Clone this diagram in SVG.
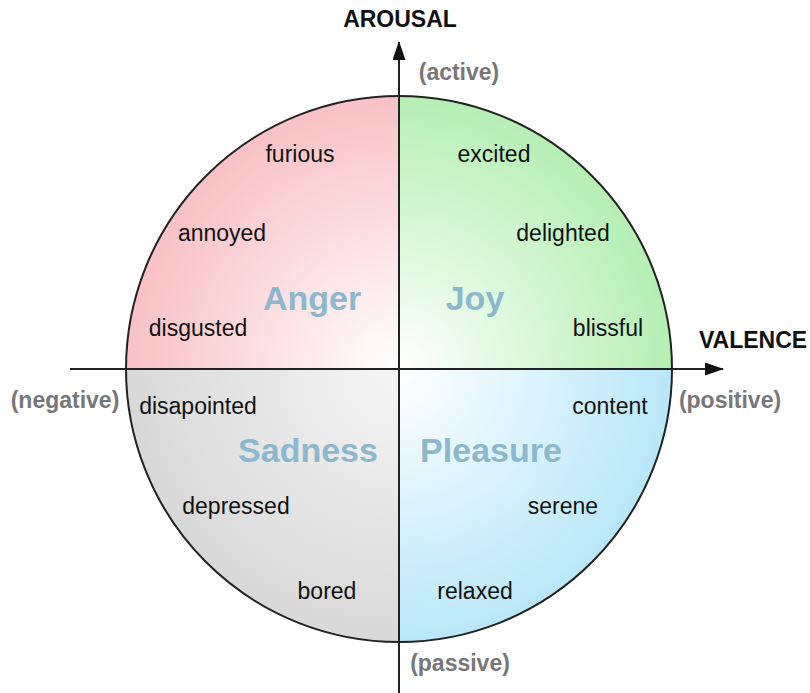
<svg xmlns="http://www.w3.org/2000/svg" width="810" height="693" viewBox="0 0 810 693">
<style>
.w{font-family:"Liberation Sans",Arial,sans-serif;font-size:23px;fill:#111}
.q{font-family:"Liberation Sans",Arial,sans-serif;font-size:34px;font-weight:bold;fill:#8cb8cd}
.g{font-family:"Liberation Sans",Arial,sans-serif;font-size:23px;font-weight:bold;fill:#777}
.t{font-family:"Liberation Sans",Arial,sans-serif;font-size:23px;font-weight:bold;fill:#111}
.ax{stroke:#222;stroke-width:2;fill:none}
</style>
<defs>
<radialGradient id="gA" gradientUnits="userSpaceOnUse" cx="399" cy="369" r="273">
<stop offset="0" stop-color="#ffffff"/><stop offset="1" stop-color="#f8c1c5"/></radialGradient>
<radialGradient id="gJ" gradientUnits="userSpaceOnUse" cx="399" cy="369" r="273">
<stop offset="0" stop-color="#ffffff"/><stop offset="1" stop-color="#b5efb3"/></radialGradient>
<radialGradient id="gP" gradientUnits="userSpaceOnUse" cx="399" cy="369" r="273">
<stop offset="0" stop-color="#ffffff"/><stop offset="1" stop-color="#b9e7f8"/></radialGradient>
<radialGradient id="gS" gradientUnits="userSpaceOnUse" cx="399" cy="369" r="273">
<stop offset="0" stop-color="#f6f6f6"/><stop offset="1" stop-color="#d8d8d8"/></radialGradient>
<marker id="ah" viewBox="0 0 19 13" refX="18" refY="6.5" markerWidth="19" markerHeight="13" markerUnits="userSpaceOnUse" orient="auto">
<path d="M0,0 L19,6.5 L0,13 Z" fill="#111"/></marker>
</defs>
<g id="anger">
<path d="M399,369 L126,369 A273,273 0 0 1 399,96 Z" fill="url(#gA)"/>
<text class="q" x="312" y="310" text-anchor="middle">Anger</text>
<text class="w" x="300" y="162" text-anchor="middle">furious</text>
<text class="w" x="222" y="241" text-anchor="middle">annoyed</text>
<text class="w" x="198" y="336" text-anchor="middle">disgusted</text>
</g>
<g id="joy">
<path d="M399,369 L399,96 A273,273 0 0 1 672,369 Z" fill="url(#gJ)"/>
<text class="q" x="475" y="310" text-anchor="middle">Joy</text>
<text class="w" x="494" y="162" text-anchor="middle">excited</text>
<text class="w" x="563" y="241" text-anchor="middle">delighted</text>
<text class="w" x="608" y="336" text-anchor="middle">blissful</text>
</g>
<g id="pleasure">
<path d="M399,369 L672,369 A273,273 0 0 1 399,642 Z" fill="url(#gP)"/>
<text class="q" x="491" y="462" text-anchor="middle">Pleasure</text>
<text class="w" x="610" y="414" text-anchor="middle">content</text>
<text class="w" x="563" y="514" text-anchor="middle">serene</text>
<text class="w" x="475" y="599" text-anchor="middle">relaxed</text>
</g>
<g id="sadness">
<path d="M399,369 L399,642 A273,273 0 0 1 126,369 Z" fill="url(#gS)"/>
<text class="q" x="308" y="462" text-anchor="middle">Sadness</text>
<text class="w" x="198" y="414" text-anchor="middle">disapointed</text>
<text class="w" x="236" y="514" text-anchor="middle">depressed</text>
<text class="w" x="327" y="599" text-anchor="middle">bored</text>
</g>
<circle cx="399" cy="369" r="273" class="ax"/>
<g id="connectors">
<line x1="399" y1="693" x2="399" y2="42" class="ax" marker-end="url(#ah)"/>
<line x1="70" y1="369" x2="723" y2="369" class="ax" marker-end="url(#ah)"/>
</g>
<g id="labels">
<text class="t" x="400" y="27" text-anchor="middle">AROUSAL</text>
<text class="t" x="753" y="348" text-anchor="middle">VALENCE</text>
<text class="g" x="459" y="80" text-anchor="middle">(active)</text>
<text class="g" x="65" y="408" text-anchor="middle">(negative)</text>
<text class="g" x="730" y="408" text-anchor="middle">(positive)</text>
<text class="g" x="460" y="671" text-anchor="middle">(passive)</text>
</g>
</svg>
